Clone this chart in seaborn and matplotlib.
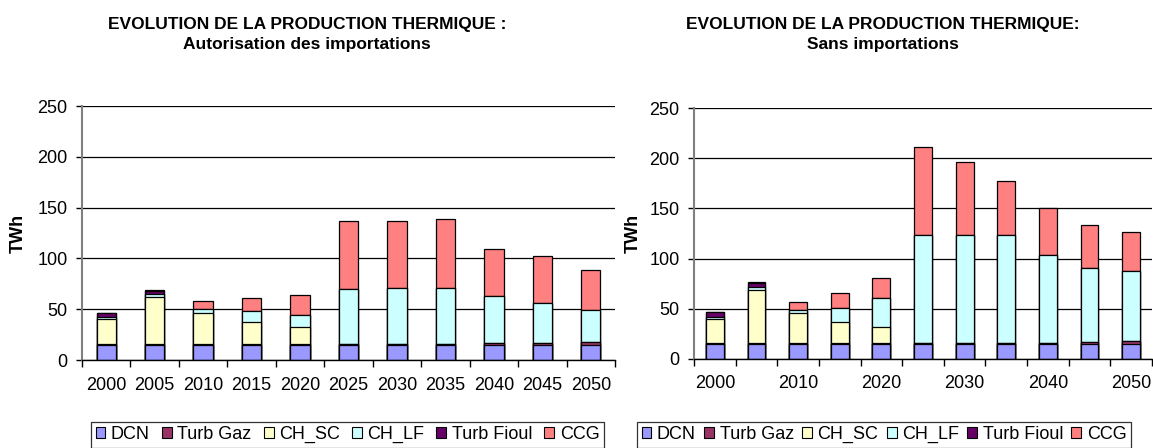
import numpy as np
import matplotlib.pyplot as plt
import seaborn as sns
from matplotlib.patches import Patch

# --- data (TWh) ---
years = ['2000', '2005', '2010', '2015', '2020', '2025',
         '2030', '2035', '2040', '2045', '2050']
series_names = ['DCN', 'Turb Gaz', 'CH_SC', 'CH_LF', 'Turb Fioul', 'CCG']
series_colors = ['#9999FF', '#993366', '#FFFFCC', '#CCFFFF', '#660066', '#FF8080']

# Autorisation des importations
dcn_imp = [15, 15, 15, 15, 15, 15, 15, 15, 15, 15, 15]
tgaz_imp = [1, 1, 0.5, 0.5, 0.5, 0.5, 0.5, 0.5, 1.5, 2, 2.5]
chsc_imp = [24, 46, 31, 21.5, 16.5, 0, 0, 0, 0, 0, 0]
chlf_imp = [2, 2.5, 3.5, 11, 12, 54, 55, 55, 46.5, 39, 32]
tfioul_imp = [4.5, 3.5, 0, 0, 0, 0, 0, 0, 0, 0, 0]
ccg_imp = [0, 1, 8, 13.5, 19.5, 67, 66, 68, 46, 46.5, 39.5]

# Sans importations
dcn_sans = [15, 15, 15, 15, 15, 15, 15, 15, 15, 15, 15]
tgaz_sans = [1, 1, 0.5, 0.5, 0.5, 0.5, 0.5, 1, 1, 2, 2.5]
chsc_sans = [24, 53, 30, 21.5, 16.5, 0, 0, 0, 0, 0, 0]
chlf_sans = [2, 3, 3, 13.5, 28.5, 107.5, 108, 107.5, 87.5, 73.5, 70.5]
tfioul_sans = [4.5, 4, 0, 0, 0, 0, 0, 0, 0, 0, 0]
ccg_sans = [0, 1, 8.5, 15, 20, 88.5, 73, 54, 46.5, 43, 38.5]

sns.set_style('ticks')
plt.rcParams['font.family'] = ['Liberation Sans', 'DejaVu Sans']
plt.rcParams['text.color'] = 'black'
plt.rcParams['axes.labelcolor'] = 'black'
plt.rcParams['xtick.color'] = 'black'
plt.rcParams['ytick.color'] = 'black'

W, H = 1153, 448
fig = plt.figure(figsize=(W / 100, H / 100), dpi=100)


def draw_panel(ax, values, bar_width, label_step):
    cum = np.cumsum(np.array(values, dtype=float), axis=0)
    # draw tallest stack first, lower segments on top
    for i in range(len(values) - 1, -1, -1):
        sns.barplot(x=years, y=cum[i], color=series_colors[i], saturation=1,
                    width=bar_width, edgecolor='black', linewidth=0.9,
                    errorbar=None, ax=ax)
    ax.set_ylim(0, 250)
    ax.set_xlim(-0.5, len(years) - 0.5)
    ax.set_yticks(np.arange(0, 251, 50))
    ax.yaxis.grid(True, color='black', linewidth=0.9)
    ax.set_axisbelow(True)

    ax.set_xticks(range(len(years)))
    ax.set_xticklabels([y if k % label_step == 0 else '' for k, y in enumerate(years)])
    ax.set_xticks(np.arange(-0.5, len(years)), minor=True)
    ax.tick_params(axis='x', which='major', length=0, pad=12, labelsize=13,
                   labelcolor='black')
    ax.tick_params(axis='x', which='minor', length=5, width=1, color='black',
                   direction='out')
    ax.tick_params(axis='y', length=4.3, width=1, color='black', pad=6,
                   labelsize=13, labelcolor='black')
    ax.set_xlabel('')
    ax.set_ylabel('TWh', fontsize=13, fontweight='bold', color='black')
    sns.despine(ax=ax)
    ax.spines['left'].set_color('#808080')
    ax.spines['left'].set_linewidth(1.5)
    ax.spines['bottom'].set_color('black')
    ax.spines['bottom'].set_linewidth(1)


ax1 = fig.add_axes([82 / W, (H - 360) / H, 533 / W, 254 / H])
draw_panel(ax1, [dcn_imp, tgaz_imp, chsc_imp, chlf_imp, tfioul_imp, ccg_imp], 0.4, 1)
ax1.yaxis.set_label_coords(-0.103, 0.5)

ax2 = fig.add_axes([694 / W, (H - 358.5) / H, 458 / W, 250 / H])
draw_panel(ax2, [dcn_sans, tgaz_sans, chsc_sans, chlf_sans, tfioul_sans, ccg_sans], 0.43, 2)
ax2.yaxis.set_label_coords(-0.113, 0.5)

# titles
title_kw = dict(ha='center', va='center', fontsize=12.5, fontweight='bold',
                color='black')
fig.text(307 / W, 1 - 24 / H, 'EVOLUTION DE LA PRODUCTION THERMIQUE :', **title_kw)
fig.text(307 / W, 1 - 45 / H, 'Autorisation des importations', **title_kw)
fig.text(883 / W, 1 - 24 / H, 'EVOLUTION DE LA PRODUCTION THERMIQUE:', **title_kw)
fig.text(883 / W, 1 - 45 / H, 'Sans importations', **title_kw)

# legends
handles = [Patch(facecolor=c, edgecolor='black', linewidth=0.8) for c in series_colors]
for x0, x1 in [(91, 604), (637, 1131)]:
    leg = fig.legend(handles, series_names, loc='lower left', ncol=6,
                     bbox_to_anchor=(x0 / W, 0.0, (x1 - x0) / W, 0.06),
                     mode='expand', fontsize=13, frameon=True, fancybox=False,
                     handlelength=0.55, handleheight=0.55, handletextpad=0.3,
                     borderpad=0.25, borderaxespad=0.0, columnspacing=0.4)
    leg.get_frame().set_edgecolor('black')
    leg.get_frame().set_linewidth(0.9)
    for t in leg.get_texts():
        t.set_color('black')

fig.savefig('out.png', dpi=100)
